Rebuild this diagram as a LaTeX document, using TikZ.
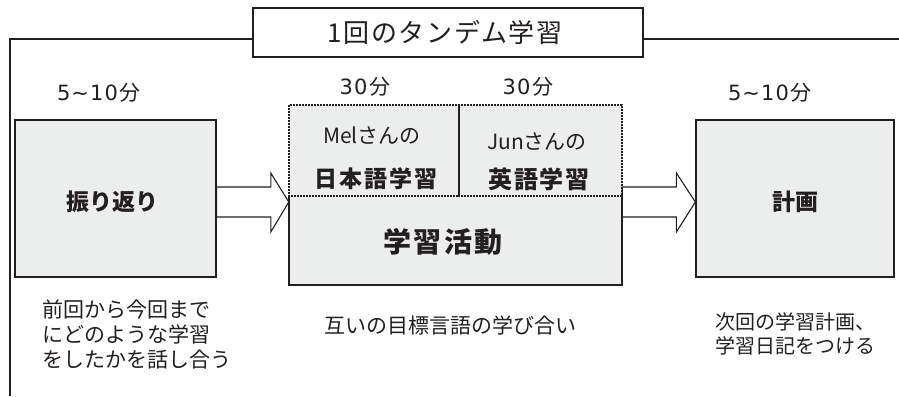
\documentclass[tikz,border=0pt]{standalone}
\usepackage{fontspec}
\setmainfont{Noto Sans CJK JP}
\newfontfamily\spacedfont[LetterSpace=8]{Noto Sans CJK JP}
\newfontfamily\titlefont[LetterSpace=6]{Noto Sans CJK JP}
\newfontfamily\durfont[LetterSpace=5]{DejaVu Sans}
\usetikzlibrary{calc}
\definecolor{boxfill}{RGB}{236,237,237}
\definecolor{ink}{RGB}{35,31,32}
\tikzset{
  txt/.style={inner sep=0pt, text=ink},
  fatarr/.style={draw=ink, fill=white, line width=1.1pt, line join=miter},
  sidebox/.style={draw=ink, fill=boxfill, line width=1.3pt, inner sep=0pt},
  dotbox/.style={draw=ink, line width=1.4pt, dash pattern=on 2pt off 1pt},
  frame/.style={draw=ink, line width=1.1pt},
}
\newcommand\fsz[1]{\fontsize{#1}{#1}\selectfont}
\newcommand\dur[1]{{\durfont #1}\hspace{2pt}分}
\begin{document}
\begin{tikzpicture}[x=1pt,y=-1pt]
\useasboundingbox (0,0) rectangle (899,396);
% title and frame
\node[draw=ink, line width=1.1pt, fill=white, minimum width=390pt, minimum height=49pt, inner sep=0pt] (T) at (448,32.5) {};
\node[txt, font=\titlefont\fsz{26}] (Tt) at (445,33) {1回のタンデム学習};
\coordinate (fl) at (10,396);
\draw[frame] (T.west |- 0,39) -- (fl |- 0,39) -- (fl);
\coordinate (fr) at (899,39);
\draw[frame] (T.east |- fr) -- (fr);

% side boxes
\node[sidebox, minimum width=201pt, minimum height=157pt] (L) at (115.5,198.5) {};
\node[sidebox, minimum width=198pt, minimum height=157pt] (R) at (795,198.5) {};
\node[txt, font=\bfseries\fsz{23}] at (112,202) {振り返り};
\node[txt, font=\bfseries\fsz{23}] at (795,202) {計画};

% middle box
\fill[boxfill] (289,105) rectangle (622,285);
\coordinate (Mnw) at (289,105);
\coordinate (Mse) at (622,285);
\coordinate (Mdiv) at (459,196);
\node[inner sep=0pt, minimum width=333pt, minimum height=180pt] (M) at (455.5,195) {};
\draw[draw=ink, line width=1.3pt] (Mnw |- Mdiv) -- (Mnw |- Mse) -- (Mse) -- (Mse |- Mdiv);
\draw[dotbox] (Mnw) rectangle (Mdiv);
\draw[dotbox] (Mdiv |- Mnw) rectangle (Mse |- Mdiv);
\node[txt, font=\fsz{21}] (mel) at (372,136) {Melさんの};
\node[txt, font=\bfseries\spacedfont\fsz{23}] (jp) at (376,179) {日本語学習};
\node[txt, font=\fsz{21}] (jun) at (537,142) {Junさんの};
\node[txt, font=\bfseries\spacedfont\fsz{24}] (en) at (539,179) {英語学習};
\node[txt, font=\bfseries\spacedfont\fsz{28}] (act) at (443,242) {学習活動};

% arrows
\draw[fatarr] ($(L.east)+(0,-11.5)$) -- ($(M.west |- L.east)+(-18,-11.5)$) -- ($(M.west |- L.east)+(-18,-25.5)$)
  -- ($(M.west |- L.east)+(0,3.5)$) -- ($(M.west |- L.east)+(-18,33.5)$) -- ($(M.west |- L.east)+(-18,18.5)$)
  -- ($(L.east)+(0,18.5)$) -- cycle;
\draw[fatarr] ($(M.east |- L.east)+(0,-11.5)$) -- ($(R.west)+(-19,-11.5)$) -- ($(R.west)+(-19,-25.5)$)
  -- ($(R.west)+(0,3.5)$) -- ($(R.west)+(-19,33.5)$) -- ($(R.west)+(-19,18.5)$)
  -- ($(M.east |- L.east)+(0,18.5)$) -- cycle;

% durations
\node[txt, font=\fsz{21}] at (99,93) {\dur{5\textasciitilde10}};
\node[txt, font=\fsz{21}] at (365,87) {\dur{30}};
\node[txt, font=\fsz{21}] at (528,87) {\dur{30}};
\node[txt, font=\fsz{21}] at (770,93) {\dur{5\textasciitilde10}};

% descriptions
\node[txt, font=\fsz{21}, anchor=west, align=left] at (42,334) {前回から今回まで\\[4pt]にどのような学習\\[4pt]をしたかを話し合う};
\node[txt, font=\fsz{21}] at (450,325) {互いの目標言語の学び合い};
\node[txt, font=\fsz{20}, anchor=west, align=left] at (715,334) {次回の学習計画、\\[4pt]学習日記をつける};
\end{tikzpicture}
\end{document}
